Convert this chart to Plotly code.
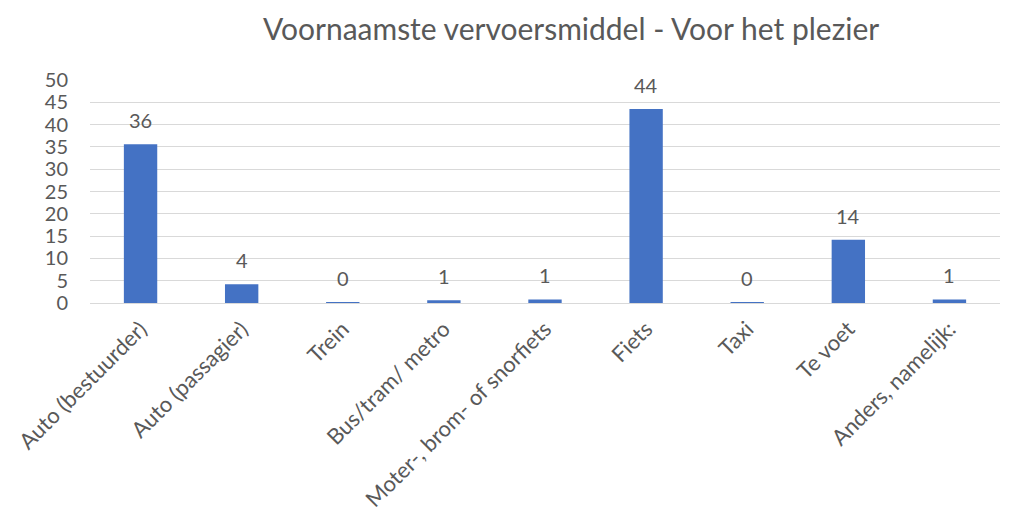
import plotly.graph_objects as go

categories = ["Auto (bestuurder)", "Auto (passagier)", "Trein", "Bus/tram/ metro",
              "Moter-, brom- of snorfiets", "Fiets", "Taxi", "Te voet", "Anders, namelijk:"]
values = [35.6, 4.2, 0.15, 0.6, 0.8, 43.5, 0.15, 14.2, 0.8]
labels = ["36", "4", "0", "1", "1", "44", "0", "14", "1"]
y_ticks = [0, 5, 10, 15, 20, 25, 30, 35, 40, 45, 50]

grey = "#595959"
fig = go.Figure(go.Bar(
    x=categories, y=values,
    marker=dict(color="#4472C4", line=dict(width=0)), width=0.33,
))
for c, v, t in zip(categories, values, labels):
    fig.add_annotation(x=c, y=v, text=t, showarrow=False, yanchor="bottom", yshift=10,
                       font=dict(size=20, color=grey))
fig.update_layout(
    width=1020, height=514,
    paper_bgcolor="white", plot_bgcolor="white",
    font=dict(family="Lato, Calibri, sans-serif", color=grey, size=20),
    title=dict(text="Voornaamste vervoersmiddel - Voor het plezier", x=0.552, xanchor="center",
               y=0.958, yanchor="middle", font=dict(size=30, color=grey)),
    margin=dict(l=82, r=28, t=72, b=219),
    showlegend=False,
)
fig.update_xaxes(tickangle=-45, showline=False, ticks="", automargin=False,
                 tickfont=dict(size=22, color=grey), ticklabelstandoff=8)
fig.update_yaxes(range=[0, 50], tickvals=y_ticks, showgrid=True, gridcolor="#d9d9d9",
                 gridwidth=1, zeroline=True, zerolinecolor="#d9d9d9", zerolinewidth=1,
                 ticks="", automargin=False, tickfont=dict(size=20, color=grey), ticklabelstandoff=21)
fig.write_html("out.html")
